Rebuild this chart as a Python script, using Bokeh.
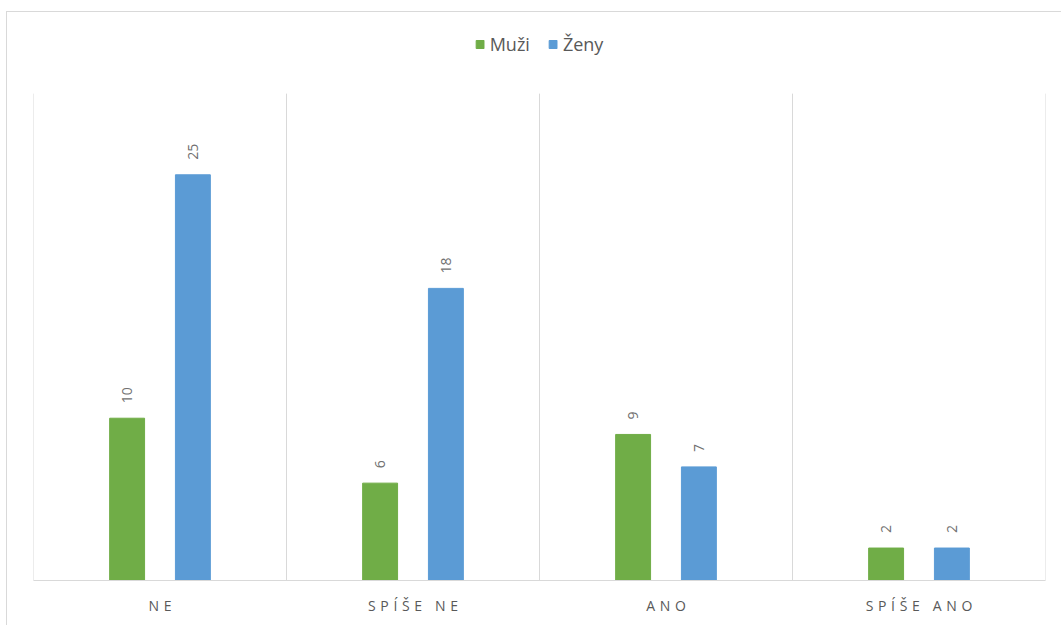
from bokeh.plotting import figure
from bokeh.models import ColumnDataSource, FixedTicker, Legend, LegendItem
from bokeh.core.properties import value
from bokeh.embed import file_html
from bokeh.resources import INLINE

categories = ["NE", "SPÍŠE NE", "ANO", "SPÍŠE ANO"]
muzi = [10, 6, 9, 2]
zeny = [25, 18, 7, 2]
series_names = ["Muži", "Ženy"]
colors = ["#70AD47", "#5B9BD5"]
y_max = 30

SP = "\u2004"
def spaced(s):
    words = s.split(" ")
    return (SP + " " + SP).join(SP.join(list(w)) for w in words)

n = len(categories)
centers = [i + 0.5 for i in range(n)]
src_m = ColumnDataSource(dict(x=[c - 0.13 for c in centers], top=muzi, lab=[str(v) for v in muzi]))
src_z = ColumnDataSource(dict(x=[c + 0.13 for c in centers], top=zeny, lab=[str(v) for v in zeny]))

p = figure(width=1055, height=614, x_range=(0, n), y_range=(0, y_max * 35 / 30),
           output_backend="svg", toolbar_location=None,
           min_border_left=26, min_border_right=17, min_border_top=0, min_border_bottom=46)
p.styles = {"border-top": "1px solid #D9D9D9", "border-left": "1px solid #D9D9D9",
            "margin-top": "11px", "margin-left": "6px"}
p.outline_line_color = None
p.background_fill_color = "white"
p.xgrid.visible = False
p.ygrid.visible = False

# vertical gridlines at category boundaries
bounds = list(range(n + 1))
p.segment(x0=bounds, x1=bounds, y0=[0] * (n + 1), y1=[y_max] * (n + 1),
          line_color="#D9D9D9", line_width=1)

r1 = p.vbar(x="x", top="top", width=0.138, source=src_m, color=colors[0])
r2 = p.vbar(x="x", top="top", width=0.138, source=src_z, color=colors[1])

for src in (src_m, src_z):
    p.text(x="x", y="top", text="lab", source=src, angle=1.5708, text_align="left",
           text_baseline="middle", y_offset=-15, text_font_size="14px",
           text_color="#707070", text_font=value("Open Sans"))

p.yaxis.visible = False

ax = p.xaxis[0]
ax.ticker = FixedTicker(ticks=centers)
ax.major_label_overrides = {c: spaced(cat) for c, cat in zip(centers, categories)}
ax.axis_line_color = "#D9D9D9"
ax.major_tick_line_color = None
ax.minor_tick_line_color = None
ax.major_label_standoff = 9
ax.major_label_text_font = "Open Sans"
ax.major_label_text_font_size = "14px"
ax.major_label_text_color = "#595959"

legend = Legend(items=[LegendItem(label=series_names[0], renderers=[r1]),
                       LegendItem(label=series_names[1], renderers=[r2])],
                orientation="horizontal", location="top_center",
                label_text_font="Open Sans", label_text_font_size="18px",
                label_text_color="#595959", glyph_width=10, glyph_height=10,
                spacing=18, label_standoff=5, border_line_color=None,
                background_fill_alpha=0, margin=20, padding=4)
p.add_layout(legend, "center")

open("out.html", "w").write(file_html(p, INLINE))
